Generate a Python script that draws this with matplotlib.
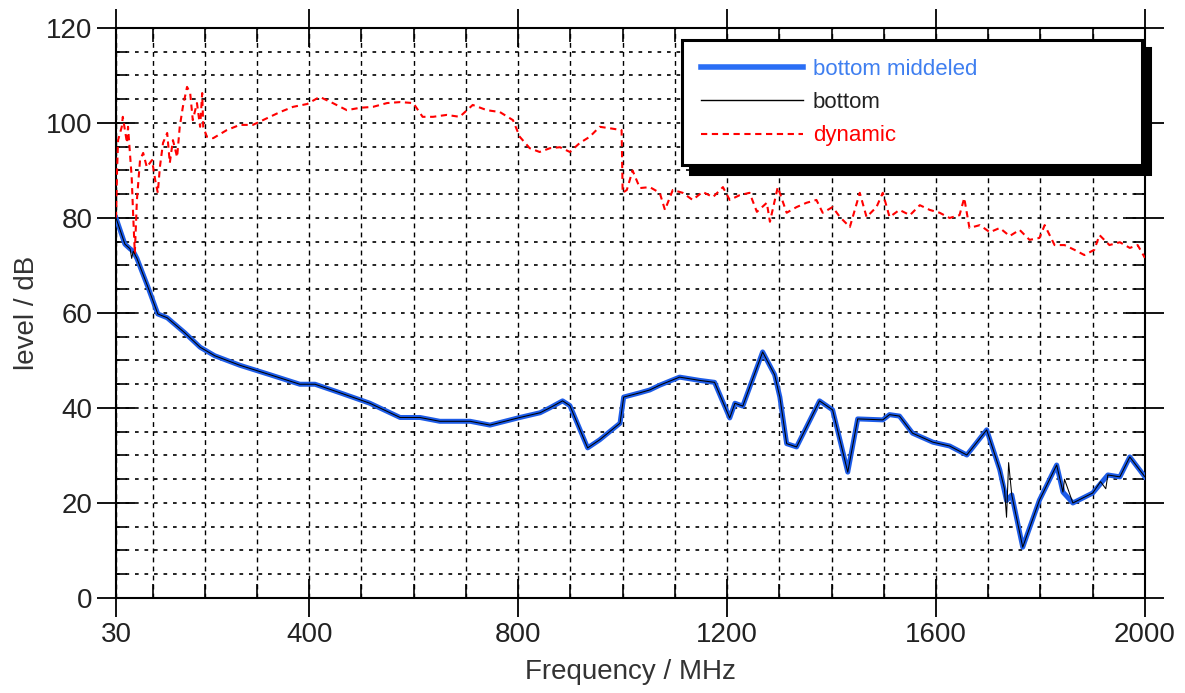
import numpy as np
import matplotlib
matplotlib.use("Agg")
import matplotlib.pyplot as plt

plt.rcParams['font.family'] = ['Liberation Sans', 'DejaVu Sans']

# bottom middeled (smoothed floor), frequency in MHz / level in dB
mid_f = [30, 47, 57, 63, 70, 91, 110, 128, 162, 191, 219, 267, 325, 382, 411,
         459, 516, 574, 612, 650, 708, 746, 803, 842, 860, 885, 899, 933, 956,
         995, 1002, 1033, 1052, 1071, 1109, 1148, 1176, 1205, 1215, 1230, 1268,
         1291, 1301, 1314, 1333, 1377, 1402, 1431, 1450, 1498, 1511, 1530, 1555,
         1594, 1626, 1659, 1697, 1722, 1735, 1745, 1766, 1798, 1831, 1843, 1862,
         1900, 1929, 1952, 1971, 2000]
mid_db = [80, 74.5, 73.5, 73, 71.5, 65.5, 59.8, 59, 55.8, 52.8, 51, 49, 47, 45, 45,
          43.2, 41, 38, 38, 37.2, 37.2, 36.4, 38, 39, 40, 41.5, 40.5, 31.6, 33.3,
          36.8, 42.3, 43.2, 43.8, 44.8, 46.5, 45.8, 45.4, 37.9, 41, 40.4, 51.8,
          47, 42.3, 32.5, 31.8, 41.5, 39.6, 26.5, 37.7, 37.5, 38.6, 38.3, 34.7,
          32.8, 32, 30.1, 35.4, 27, 20.5, 21.7, 10.7, 20.6, 28, 22.3, 20,
          22.1, 25.9, 25.5, 29.7, 25.5]

# bottom (raw), same floor with its small spikes
raw_f = [30, 47, 57, 60, 63, 70, 91, 110, 128, 162, 191, 219, 267, 325, 382, 411,
         459, 516, 574, 612, 650, 708, 746, 803, 842, 860, 885, 899, 933, 956,
         995, 1002, 1033, 1052, 1071, 1109, 1148, 1176, 1205, 1215, 1230, 1268,
         1291, 1301, 1314, 1333, 1377, 1402, 1431, 1450, 1498, 1511, 1530, 1555,
         1594, 1626, 1659, 1697, 1722, 1731, 1735, 1739, 1745, 1766, 1798, 1831,
         1843, 1846, 1862, 1900, 1915, 1925, 1929, 1952, 1971, 2000]
raw_db = [80, 74.5, 73.5, 71.5, 73, 71.5, 65.5, 59.8, 59, 55.8, 52.8, 51, 49, 47, 45, 45,
          43.2, 41, 38, 38, 37.2, 37.2, 36.4, 38, 39, 40, 41.5, 40.5, 31.6, 33.3,
          36.8, 42.3, 43.2, 43.8, 44.8, 46.5, 45.8, 45.4, 37.9, 41, 40.4, 51.8,
          47, 42.3, 32.5, 31.8, 41.5, 39.6, 26.5, 37.7, 37.5, 38.6, 38.3, 34.7,
          32.8, 32, 30.1, 35.4, 27, 23, 17, 28.5, 21.7, 10.7, 20.6, 28,
          22.3, 25, 20, 22.1, 24.5, 23, 25.9, 25.5, 29.7, 25.5]

# dynamic
dyn_f = [30, 32, 34, 41, 43, 51, 53, 60, 63, 66, 70, 76, 82, 89, 99, 105, 110,
         114, 120, 128, 133, 139, 147, 152, 158, 166, 172, 177, 185, 191, 195,
         197, 204, 216, 242, 267, 292, 319, 344, 369, 396, 420, 445, 472, 497,
         522, 549, 574, 599, 617, 637, 663, 688, 713, 740, 765, 790, 803, 822,
         841, 861, 880, 899, 918, 937, 956, 975, 998, 1000, 1008, 1019, 1033,
         1052, 1071, 1081, 1096, 1115, 1134, 1153, 1173, 1192, 1205, 1224, 1243,
         1257, 1276, 1282, 1297, 1314, 1333, 1352, 1371, 1383, 1402, 1416, 1435,
         1454, 1467, 1486, 1498, 1511, 1530, 1550, 1569, 1588, 1607, 1626, 1645,
         1654, 1664, 1684, 1703, 1722, 1741, 1760, 1779, 1798, 1808, 1827, 1846,
         1865, 1884, 1903, 1913, 1932, 1952, 1971, 1986, 2000]
dyn_db = [80, 90, 96.4, 99.2, 101.3, 95.8, 99.2, 88.6, 80.2, 72.6, 83.8, 92.2, 93.7,
          90.7, 92.2, 88, 85.3, 90.7, 95.8, 97.9, 91.6, 96.4, 92.8, 99.2, 103.4,
          107.6, 106.3, 100.6, 104.2, 99.2, 106.3, 99.2, 97.1, 96.8, 98.5, 99.6,
          99.6, 101, 102.3, 103.4, 104, 105.5, 104.2, 102.7, 103.2, 103.4, 104.2,
          104.4, 104.2, 101.3, 101.3, 101.7, 101.3, 103.8, 102.7, 102.3, 100.6,
          97.1, 94.7, 93.9, 94.7, 94.9, 93.9, 95.8, 97.1, 99.2, 98.9, 98.5, 85.3,
          85.9, 90, 86.3, 86.5, 85.3, 81.7, 85.9, 85.3, 83.8, 85.5, 84.4, 86.5,
          83.8, 84.8, 85.3, 81.3, 83.2, 79.2, 86.5, 81.1, 82.3, 83.2, 83.8, 81.1,
          82.3, 80.2, 78.1, 85.3, 80.2, 82.3, 85.3, 80.2, 81.7, 80.6, 82.7, 81.7,
          81.1, 80, 80.6, 84.2, 77.9, 78.5, 77, 77.9, 76.2, 77.5, 75.4, 75.8,
          78.5, 74.3, 74.3, 73.3, 72.2, 73.3, 76.4, 74.3, 74.9, 73.7, 74.3, 71.6]

x_major = [30, 400, 800, 1200, 1600, 2000]
x_minor = list(range(100, 2000, 100))
y_major = list(range(0, 121, 20))
y_minor = list(range(0, 121, 5))

fig = plt.figure(figsize=(11.85, 6.93), dpi=100)
ax = fig.add_axes([0.0979, 0.1371, 0.8683, 0.8225])

ax.plot(mid_f, mid_db, color='#1d5ce8', lw=3.6, label='bottom middeled', zorder=3)
ax.plot(raw_f, raw_db, color='black', lw=0.75, label='bottom', zorder=4)
ax.plot(dyn_f, dyn_db, color='red', lw=1.5, ls=(0, (3, 2.2)), label='dynamic', zorder=3)

ax.set_xlim(30, 2000)
ax.set_ylim(0, 120)
ax.set_xticks(x_major)
ax.set_xticks(x_minor, minor=True)
ax.set_yticks(y_major)
ax.set_yticks(y_minor, minor=True)

ax.grid(which='both', axis='x', color='black', lw=1.0, ls=(0, (3.5, 3)))
ax.grid(which='both', axis='y', color='black', lw=1.2, ls=(0, (2.2, 3.5)))

ax.tick_params(which='major', direction='inout', length=28, width=1.3,
               top=True, right=True, labelsize=20, labelcolor='#222222', pad=3)
ax.tick_params(which='minor', axis='x', direction='in', length=10, width=1.2,
               top=True)
ax.tick_params(which='minor', axis='y', direction='in', length=8, width=1.2,
               right=True)
for s in ax.spines.values():
    s.set_linewidth(1.5)

ax.set_xlabel('Frequency / MHz', fontsize=20, color='#333333', labelpad=8)
ax.set_ylabel('level / dB', fontsize=20, color='#333333', labelpad=4)

leg = ax.legend(loc='upper left', bbox_to_anchor=(0.55, 0.979, 0.447, 0.0),
                mode='expand', borderaxespad=0, fontsize=16, handlelength=4.6,
                handletextpad=0.45, labelspacing=0.55, borderpad=0.85,
                fancybox=False, framealpha=1, edgecolor='black',
                shadow={'ox': 6, 'oy': -6, 'color': 'black', 'alpha': 1})
leg.get_frame().set_linewidth(2.2)
for txt, c in zip(leg.get_texts(), ['#3f7ff0', '#222222', 'red']):
    txt.set_color(c)
leg.get_lines()[0].set_color('#2a6ef5')
leg.get_lines()[0].set_linewidth(4)
leg.get_lines()[1].set_linewidth(1.0)

fig.savefig('out.png', dpi=100)
